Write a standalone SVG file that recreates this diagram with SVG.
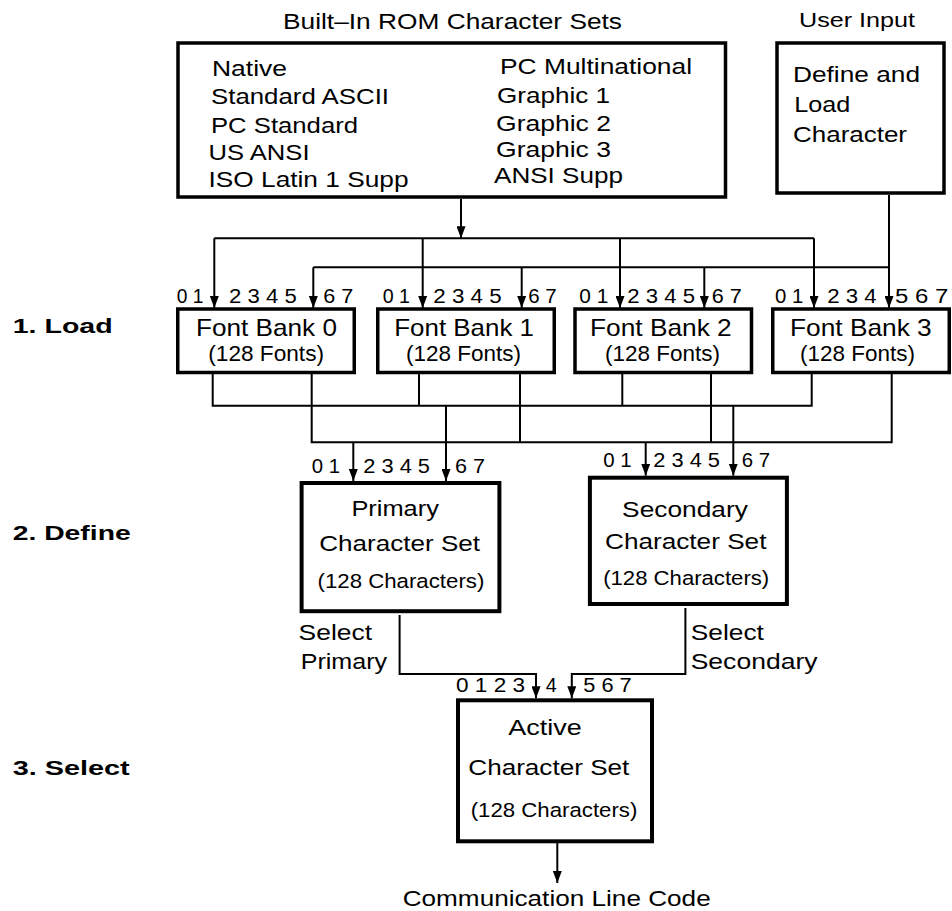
<svg xmlns="http://www.w3.org/2000/svg" width="952" height="911" viewBox="0 0 952 911">
<defs>
<style>
text { font-family: "Liberation Sans", Arial, Helvetica, sans-serif; fill: #000; }
.box { fill: #fff; stroke: #000; stroke-width: 3.5; }
.box4 { fill: #fff; stroke: #000; stroke-width: 4; }
.ln { fill: none; stroke: #000; stroke-width: 2; }
.arr { fill: none; stroke: #000; stroke-width: 2; marker-end: url(#ah); }
.f19 { font-size: 20px; }
.f20 { font-size: 20.5px; }
.f21 { font-size: 21.5px; }
.f22 { font-size: 22.5px; }
.f24 { font-size: 24px; }
.step { font-size: 21px; font-weight: bold; }
</style>
<marker id="ah" markerUnits="userSpaceOnUse" viewBox="0 0 12 9" markerWidth="12" markerHeight="9" refX="12" refY="4.5" orient="auto">
<path d="M0,0 L12,4.5 L0,9 z" fill="#000"/>
</marker>
</defs>
<rect width="952" height="911" fill="#fff"/>

<g id="connectors">
<path class="arr" d="M461,199 V238.3"/>
<path class="ln" d="M214.3,238.3 H814"/>
<path class="arr" d="M214.3,238.3 V308"/>
<path class="arr" d="M422.7,238.3 V308"/>
<path class="arr" d="M620,238.3 V308"/>
<path class="arr" d="M814,238.3 V308"/>
<path class="ln" d="M313.3,267.3 H889"/>
<path class="arr" d="M313.3,267.3 V308"/>
<path class="arr" d="M521.7,267.3 V308"/>
<path class="arr" d="M704.3,267.3 V308"/>
<path class="arr" d="M889,195 V308"/>
<path class="ln" d="M212.7,374 V405.7 H811.7 V374"/>
<path class="ln" d="M419,374 V405.7"/>
<path class="ln" d="M622.3,374 V405.7"/>
<path class="ln" d="M311.7,374 V442.3 H891.7 V374"/>
<path class="ln" d="M520,374 V442.3"/>
<path class="ln" d="M711,374 V442.3"/>
<path class="arr" d="M446,405.7 V481"/>
<path class="arr" d="M353.3,442.3 V481"/>
<path class="arr" d="M733.3,405.7 V475.7"/>
<path class="arr" d="M645.7,442.3 V475.7"/>
<path class="arr" d="M399.6,615 V673.9 H536 V698.3"/>
<path class="arr" d="M685.4,608 V673.9 H571.8 V698.3"/>
<path class="arr" d="M557.3,843 V883"/>
</g>

<g id="steps">
<text class="step" x="12.7" y="333" textLength="100" lengthAdjust="spacingAndGlyphs">1. Load</text>
<text class="step" x="12.7" y="540" textLength="118" lengthAdjust="spacingAndGlyphs">2. Define</text>
<text class="step" x="12.7" y="775" textLength="117" lengthAdjust="spacingAndGlyphs">3. Select</text>
</g>

<g id="rom">
<text class="f21" x="283" y="29" textLength="339" lengthAdjust="spacingAndGlyphs">Built–In ROM Character Sets</text>
<rect class="box" x="178" y="43" width="547.5" height="154"/>
<text class="f21" x="212" y="76" textLength="75" lengthAdjust="spacingAndGlyphs">Native</text>
<text class="f21" x="211" y="104" textLength="178" lengthAdjust="spacingAndGlyphs">Standard ASCII</text>
<text class="f21" x="211" y="132.7" textLength="147" lengthAdjust="spacingAndGlyphs">PC Standard</text>
<text class="f21" x="208.5" y="160" textLength="101" lengthAdjust="spacingAndGlyphs">US ANSI</text>
<text class="f21" x="208.5" y="186.7" textLength="200" lengthAdjust="spacingAndGlyphs">ISO Latin 1 Supp</text>
<text class="f21" x="500" y="73.5" textLength="192" lengthAdjust="spacingAndGlyphs">PC Multinational</text>
<text class="f21" x="497" y="102.7" textLength="113" lengthAdjust="spacingAndGlyphs">Graphic 1</text>
<text class="f21" x="496" y="130.7" textLength="115" lengthAdjust="spacingAndGlyphs">Graphic 2</text>
<text class="f21" x="496" y="157.3" textLength="115" lengthAdjust="spacingAndGlyphs">Graphic 3</text>
<text class="f21" x="494" y="182.7" textLength="129" lengthAdjust="spacingAndGlyphs">ANSI Supp</text>
</g>

<g id="user">
<text class="f20" x="799" y="27" textLength="116" lengthAdjust="spacingAndGlyphs">User Input</text>
<rect class="box" x="777" y="43" width="167" height="150"/>
<text class="f21" x="793" y="81.7" textLength="127" lengthAdjust="spacingAndGlyphs">Define and</text>
<text class="f21" x="794.3" y="111.7" textLength="56" lengthAdjust="spacingAndGlyphs">Load</text>
<text class="f21" x="793" y="141.7" textLength="114" lengthAdjust="spacingAndGlyphs">Character</text>
</g>

<g id="fb0">
<text class="f19" x="176.7" y="302.7" textLength="26.7" lengthAdjust="spacingAndGlyphs">0 1</text>
<text class="f19" x="229" y="302.7" textLength="67.7" lengthAdjust="spacingAndGlyphs">2 3 4 5</text>
<text class="f19" x="323.3" y="302.7" textLength="30" lengthAdjust="spacingAndGlyphs">6 7</text>
<rect class="box" x="177.75" y="309" width="176.5" height="63.5"/>
<text class="f24" x="196" y="335.7" textLength="141" lengthAdjust="spacingAndGlyphs">Font Bank 0</text>
<text class="f21" x="208.3" y="361" textLength="115.7" lengthAdjust="spacingAndGlyphs">(128 Fonts)</text>
</g>

<g id="fb1">
<text class="f19" x="382.7" y="302.7" textLength="27.3" lengthAdjust="spacingAndGlyphs">0 1</text>
<text class="f19" x="433.3" y="302.7" textLength="68.4" lengthAdjust="spacingAndGlyphs">2 3 4 5</text>
<text class="f19" x="528.3" y="302.7" textLength="28.4" lengthAdjust="spacingAndGlyphs">6 7</text>
<rect class="box" x="377.75" y="309" width="176.5" height="63.5"/>
<text class="f24" x="394.3" y="335.7" textLength="139.7" lengthAdjust="spacingAndGlyphs">Font Bank 1</text>
<text class="f21" x="406" y="361" textLength="115" lengthAdjust="spacingAndGlyphs">(128 Fonts)</text>
</g>

<g id="fb2">
<text class="f19" x="579.3" y="302.7" textLength="29" lengthAdjust="spacingAndGlyphs">0 1</text>
<text class="f19" x="627.3" y="302.7" textLength="67.7" lengthAdjust="spacingAndGlyphs">2 3 4 5</text>
<text class="f19" x="711.7" y="302.7" textLength="30" lengthAdjust="spacingAndGlyphs">6 7</text>
<rect class="box" x="575" y="309" width="176.5" height="63.5"/>
<text class="f24" x="590" y="335.7" textLength="141.7" lengthAdjust="spacingAndGlyphs">Font Bank 2</text>
<text class="f21" x="605" y="361" textLength="115" lengthAdjust="spacingAndGlyphs">(128 Fonts)</text>
</g>

<g id="fb3">
<text class="f19" x="775" y="302.7" textLength="28.3" lengthAdjust="spacingAndGlyphs">0 1</text>
<text class="f19" x="827.3" y="302.7" textLength="49.4" lengthAdjust="spacingAndGlyphs">2 3 4</text>
<text class="f19" x="895" y="302.7" textLength="53.3" lengthAdjust="spacingAndGlyphs">5 6 7</text>
<rect class="box" x="772.75" y="309" width="176.5" height="63.5"/>
<text class="f24" x="790" y="335.7" textLength="141.7" lengthAdjust="spacingAndGlyphs">Font Bank 3</text>
<text class="f21" x="800" y="360.5" textLength="115" lengthAdjust="spacingAndGlyphs">(128 Fonts)</text>
</g>

<g id="primary">
<text class="f19" x="311.7" y="473" textLength="28.3" lengthAdjust="spacingAndGlyphs">0 1</text>
<text class="f19" x="363.3" y="473" textLength="66.7" lengthAdjust="spacingAndGlyphs">2 3 4 5</text>
<text class="f19" x="455" y="473" textLength="30" lengthAdjust="spacingAndGlyphs">6 7</text>
<rect class="box4" x="301.6" y="483" width="197.8" height="128.2"/>
<text class="f22" x="351.4" y="515.7" textLength="87.5" lengthAdjust="spacingAndGlyphs">Primary</text>
<text class="f22" x="319.3" y="550.7" textLength="160.7" lengthAdjust="spacingAndGlyphs">Character Set</text>
<text class="f20" x="317.5" y="588" textLength="166.8" lengthAdjust="spacingAndGlyphs">(128 Characters)</text>
<text class="f22" x="298.6" y="640" textLength="73.5" lengthAdjust="spacingAndGlyphs">Select</text>
<text class="f22" x="300.7" y="668.6" textLength="86.4" lengthAdjust="spacingAndGlyphs">Primary</text>
</g>

<g id="secondary">
<text class="f19" x="603.3" y="467" textLength="28.4" lengthAdjust="spacingAndGlyphs">0 1</text>
<text class="f19" x="653.3" y="467" textLength="66.7" lengthAdjust="spacingAndGlyphs">2 3 4 5</text>
<text class="f19" x="741.7" y="467" textLength="28.3" lengthAdjust="spacingAndGlyphs">6 7</text>
<rect class="box4" x="589.9" y="477.7" width="197" height="126.3"/>
<text class="f22" x="622.1" y="516.8" textLength="125.8" lengthAdjust="spacingAndGlyphs">Secondary</text>
<text class="f22" x="605" y="549" textLength="161.4" lengthAdjust="spacingAndGlyphs">Character Set</text>
<text class="f20" x="603.2" y="584.6" textLength="166" lengthAdjust="spacingAndGlyphs">(128 Characters)</text>
<text class="f22" x="690.7" y="640" textLength="73.2" lengthAdjust="spacingAndGlyphs">Select</text>
<text class="f22" x="690.7" y="668.6" textLength="126.8" lengthAdjust="spacingAndGlyphs">Secondary</text>
</g>

<g id="active">
<text class="f19" x="456" y="691.7" textLength="69" lengthAdjust="spacingAndGlyphs">0 1 2 3</text>
<text class="f19" x="545.7" y="691.7" textLength="11" lengthAdjust="spacingAndGlyphs">4</text>
<text class="f19" x="583.3" y="691.7" textLength="48.4" lengthAdjust="spacingAndGlyphs">5 6 7</text>
<rect class="box4" x="458" y="700.3" width="194" height="141"/>
<text class="f22" x="508.3" y="735" textLength="73.4" lengthAdjust="spacingAndGlyphs">Active</text>
<text class="f22" x="468.3" y="775" textLength="161" lengthAdjust="spacingAndGlyphs">Character Set</text>
<text class="f20" x="470.7" y="816.7" textLength="166.6" lengthAdjust="spacingAndGlyphs">(128 Characters)</text>
</g>

<g id="output">
<text class="f22" x="402.7" y="905.5" textLength="308" lengthAdjust="spacingAndGlyphs">Communication Line Code</text>
</g>
</svg>
